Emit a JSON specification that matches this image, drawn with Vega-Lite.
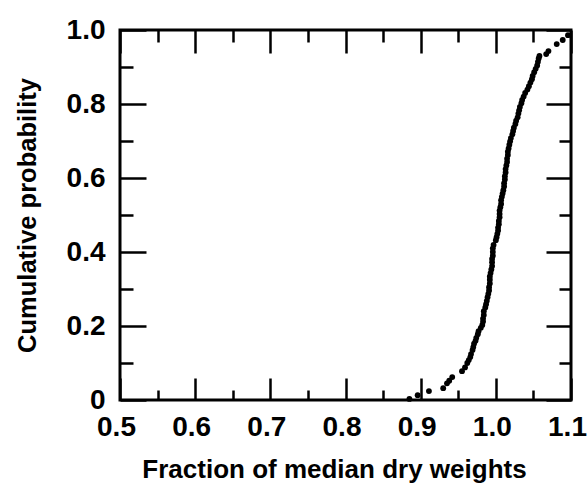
{
  "$schema": "https://vega.github.io/schema/vega-lite/v6.json",
  "width": 451,
  "height": 370,
  "autosize": {"type": "none"},
  "padding": {"left": 120, "top": 30, "right": 16, "bottom": 92},
  "background": "white",
  "config": {
    "view": {"stroke": "black", "strokeWidth": 3},
    "axis": {
      "domain": false,
      "grid": false,
      "tickColor": "black",
      "tickWidth": 2.5,
      "labelColor": "black",
      "labelFont": "Liberation Sans",
      "labelFontWeight": "bold",
      "labelFontSize": 28,
      "titleFont": "Liberation Sans",
      "titleFontWeight": "bold",
      "titleColor": "black",
      "labelFlush": false,
      "labelOverlap": false
    }
  },
  "data": {
    "values": [
      {"fraction": 0.885, "cumprob": 0.003},
      {"fraction": 0.896, "cumprob": 0.013},
      {"fraction": 0.911, "cumprob": 0.024},
      {"fraction": 0.930, "cumprob": 0.032},
      {"fraction": 0.935, "cumprob": 0.045},
      {"fraction": 0.938, "cumprob": 0.052},
      {"fraction": 0.942, "cumprob": 0.062},
      {"fraction": 0.955, "cumprob": 0.078},
      {"fraction": 0.959, "cumprob": 0.088},
      {"fraction": 0.962, "cumprob": 0.100},
      {"fraction": 0.964, "cumprob": 0.108},
      {"fraction": 0.966, "cumprob": 0.116},
      {"fraction": 0.967, "cumprob": 0.124},
      {"fraction": 0.969, "cumprob": 0.135},
      {"fraction": 0.970, "cumprob": 0.143},
      {"fraction": 0.971, "cumprob": 0.152},
      {"fraction": 0.973, "cumprob": 0.160},
      {"fraction": 0.974, "cumprob": 0.168},
      {"fraction": 0.976, "cumprob": 0.178},
      {"fraction": 0.977, "cumprob": 0.186},
      {"fraction": 0.980, "cumprob": 0.195},
      {"fraction": 0.982, "cumprob": 0.203},
      {"fraction": 0.983, "cumprob": 0.212},
      {"fraction": 0.983, "cumprob": 0.220},
      {"fraction": 0.984, "cumprob": 0.230},
      {"fraction": 0.984, "cumprob": 0.240},
      {"fraction": 0.986, "cumprob": 0.250},
      {"fraction": 0.987, "cumprob": 0.259},
      {"fraction": 0.988, "cumprob": 0.268},
      {"fraction": 0.989, "cumprob": 0.278},
      {"fraction": 0.990, "cumprob": 0.287},
      {"fraction": 0.991, "cumprob": 0.296},
      {"fraction": 0.991, "cumprob": 0.305},
      {"fraction": 0.992, "cumprob": 0.315},
      {"fraction": 0.992, "cumprob": 0.325},
      {"fraction": 0.992, "cumprob": 0.334},
      {"fraction": 0.993, "cumprob": 0.343},
      {"fraction": 0.994, "cumprob": 0.353},
      {"fraction": 0.995, "cumprob": 0.362},
      {"fraction": 0.995, "cumprob": 0.372},
      {"fraction": 0.995, "cumprob": 0.381},
      {"fraction": 0.996, "cumprob": 0.390},
      {"fraction": 0.996, "cumprob": 0.400},
      {"fraction": 0.996, "cumprob": 0.410},
      {"fraction": 0.997, "cumprob": 0.419},
      {"fraction": 1.000, "cumprob": 0.432},
      {"fraction": 1.001, "cumprob": 0.440},
      {"fraction": 1.002, "cumprob": 0.449},
      {"fraction": 1.003, "cumprob": 0.458},
      {"fraction": 1.003, "cumprob": 0.466},
      {"fraction": 1.004, "cumprob": 0.475},
      {"fraction": 1.004, "cumprob": 0.484},
      {"fraction": 1.005, "cumprob": 0.494},
      {"fraction": 1.005, "cumprob": 0.503},
      {"fraction": 1.005, "cumprob": 0.512},
      {"fraction": 1.006, "cumprob": 0.521},
      {"fraction": 1.007, "cumprob": 0.530},
      {"fraction": 1.007, "cumprob": 0.540},
      {"fraction": 1.008, "cumprob": 0.549},
      {"fraction": 1.009, "cumprob": 0.558},
      {"fraction": 1.010, "cumprob": 0.567},
      {"fraction": 1.011, "cumprob": 0.577},
      {"fraction": 1.011, "cumprob": 0.586},
      {"fraction": 1.012, "cumprob": 0.596},
      {"fraction": 1.012, "cumprob": 0.605},
      {"fraction": 1.013, "cumprob": 0.615},
      {"fraction": 1.013, "cumprob": 0.624},
      {"fraction": 1.014, "cumprob": 0.634},
      {"fraction": 1.015, "cumprob": 0.643},
      {"fraction": 1.015, "cumprob": 0.652},
      {"fraction": 1.016, "cumprob": 0.662},
      {"fraction": 1.016, "cumprob": 0.671},
      {"fraction": 1.017, "cumprob": 0.680},
      {"fraction": 1.018, "cumprob": 0.690},
      {"fraction": 1.019, "cumprob": 0.699},
      {"fraction": 1.020, "cumprob": 0.708},
      {"fraction": 1.022, "cumprob": 0.718},
      {"fraction": 1.023, "cumprob": 0.727},
      {"fraction": 1.024, "cumprob": 0.736},
      {"fraction": 1.026, "cumprob": 0.746},
      {"fraction": 1.027, "cumprob": 0.755},
      {"fraction": 1.029, "cumprob": 0.764},
      {"fraction": 1.030, "cumprob": 0.774},
      {"fraction": 1.031, "cumprob": 0.783},
      {"fraction": 1.032, "cumprob": 0.792},
      {"fraction": 1.034, "cumprob": 0.802},
      {"fraction": 1.035, "cumprob": 0.811},
      {"fraction": 1.037, "cumprob": 0.820},
      {"fraction": 1.039, "cumprob": 0.830},
      {"fraction": 1.042, "cumprob": 0.839},
      {"fraction": 1.044, "cumprob": 0.848},
      {"fraction": 1.046, "cumprob": 0.858},
      {"fraction": 1.048, "cumprob": 0.867},
      {"fraction": 1.049, "cumprob": 0.876},
      {"fraction": 1.051, "cumprob": 0.886},
      {"fraction": 1.053, "cumprob": 0.895},
      {"fraction": 1.055, "cumprob": 0.904},
      {"fraction": 1.056, "cumprob": 0.914},
      {"fraction": 1.057, "cumprob": 0.923},
      {"fraction": 1.058, "cumprob": 0.930},
      {"fraction": 1.067, "cumprob": 0.935},
      {"fraction": 1.070, "cumprob": 0.943},
      {"fraction": 1.081, "cumprob": 0.962},
      {"fraction": 1.089, "cumprob": 0.973},
      {"fraction": 1.096, "cumprob": 0.986}
    ]
  },
  "layer": [
    {
      "mark": {"type": "circle", "size": 34, "color": "black", "opacity": 1},
      "encoding": {
        "x": {
          "field": "fraction",
          "type": "quantitative",
          "scale": {"domain": [0.5, 1.1], "nice": false, "zero": false},
          "axis": {
            "orient": "bottom",
            "values": [0.5, 0.55, 0.6, 0.65, 0.7, 0.75, 0.8, 0.85, 0.9, 0.95, 1.0, 1.05, 1.1],
            "tickSize": {"condition": {"test": "round(datum.value * 20) % 2 == 0", "value": -22}, "value": -10},
            "labelPadding": 35,
            "labelOffset": -4,
            "labelExpr": "round(datum.value * 20) % 2 == 0 ? format(datum.value, '.1f') : ''",
            "title": "Fraction of median dry weights",
            "titleFontSize": 26,
            "titlePadding": 3,
            "titleX": 214
          }
        },
        "y": {
          "field": "cumprob",
          "type": "quantitative",
          "scale": {"domain": [0, 1], "nice": false},
          "axis": {
            "orient": "left",
            "values": [0, 0.1, 0.2, 0.3, 0.4, 0.5, 0.6, 0.7, 0.8, 0.9, 1.0],
            "tickSize": {"condition": {"test": "round(datum.value * 10) % 2 == 0", "value": -26}, "value": -13},
            "labelPadding": 41,
            "labelExpr": "datum.value == 0 ? '0' : (round(datum.value * 10) % 2 == 0 ? format(datum.value, '.1f') : '')",
            "title": "Cumulative probability",
            "titleFontSize": 25.5,
            "titlePadding": 26
          }
        }
      }
    },
    {
      "mark": {"type": "circle", "opacity": 0},
      "encoding": {
        "x": {
          "field": "fraction",
          "type": "quantitative",
          "axis": {
            "orient": "top",
            "values": [0.5, 0.55, 0.6, 0.65, 0.7, 0.75, 0.8, 0.85, 0.9, 0.95, 1.0, 1.05, 1.1],
            "tickSize": {"condition": {"test": "round(datum.value * 20) % 2 == 0", "value": -23}, "value": -12},
            "labels": false,
            "title": null
          }
        },
        "y": {
          "field": "cumprob",
          "type": "quantitative",
          "axis": {
            "orient": "right",
            "values": [0, 0.1, 0.2, 0.3, 0.4, 0.5, 0.6, 0.7, 0.8, 0.9, 1.0],
            "tickSize": {"condition": {"test": "round(datum.value * 10) % 2 == 0", "value": -25}, "value": -12},
            "labels": false,
            "title": null
          }
        }
      }
    }
  ],
  "resolve": {"axis": {"x": "independent", "y": "independent"}}
}
